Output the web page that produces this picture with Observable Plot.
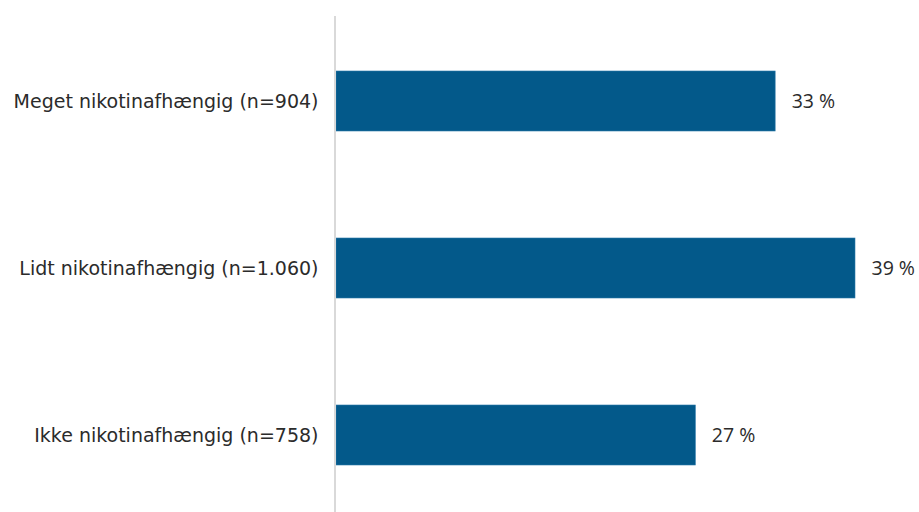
<!DOCTYPE html>
<html>
<head>
<meta charset="utf-8">
<script src="https://cdn.jsdelivr.net/npm/d3@7"></script>
<script src="https://cdn.jsdelivr.net/npm/@observablehq/plot@0.6"></script>
<style>
  html, body { margin: 0; padding: 0; background: #fff; }
</style>
</head>
<body>
<div id="chart"></div>
<script>
const categories = [
  "Meget nikotinafhængig (n=904)",
  "Lidt nikotinafhængig (n=1.060)",
  "Ikke nikotinafhængig (n=758)"
];
const values = [33, 39, 27];

const data = categories.map((c, i) => ({category: c, value: values[i]}));

const chart = Plot.plot({
  width: 919,
  height: 512,
  marginLeft: 336,
  marginRight: 64,
  marginTop: 16,
  marginBottom: 0,
  style: {fontFamily: "'DejaVu Sans', sans-serif", fontSize: "19px", color: "#2b2b2b"},
  x: {domain: [0, 39], axis: null},
  y: {domain: categories, padding: 0.643, paddingOuter: 0.298, align: 0.54, label: null, tickSize: 0, tickPadding: 18},
  marks: [
    Plot.barX(data, {y: "category", x: "value", fill: "#03598A", stroke: "#2a78a8", strokeWidth: 0.6}),
    Plot.ruleX([0], {stroke: "#d9d9d9", strokeWidth: 2, dx: -1.5}),
    Plot.text(data, {y: "category", x: "value", text: d => `${d.value} %`, textAnchor: "start", dx: 16, fill: "#2b2b2b", fontSize: 19.5, fontFamily: "'Open Sans', sans-serif"})
  ]
});
document.getElementById("chart").appendChild(chart);
</script>
</body>
</html>
